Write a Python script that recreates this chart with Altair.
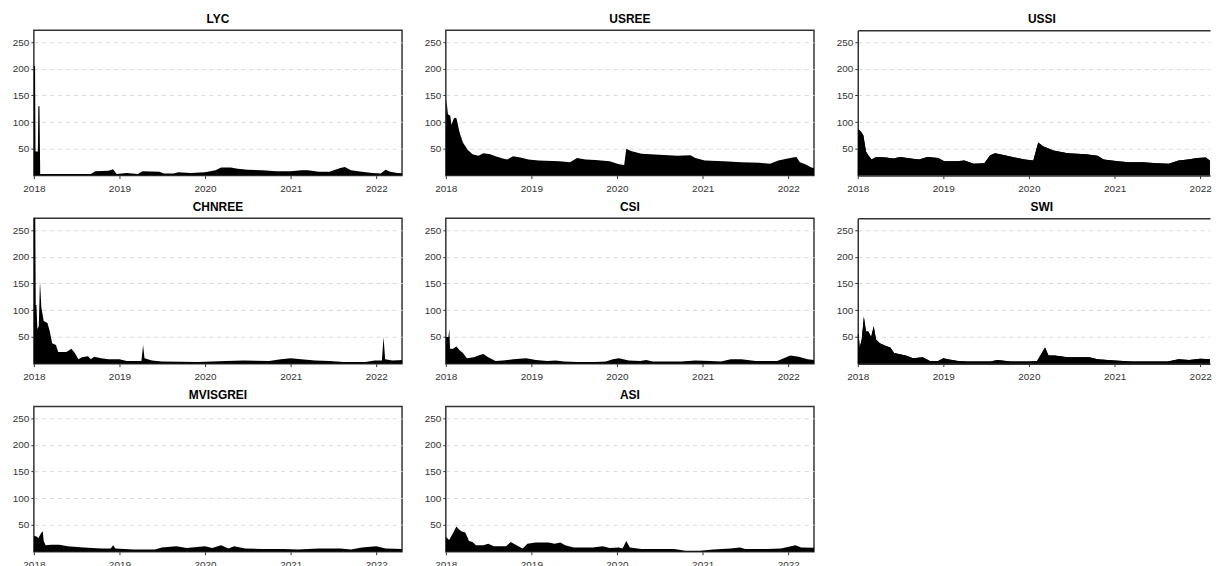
import altair as alt
import pandas as pd

# ---------------- data ----------------
LYC_dates = ["2018-01-01","2018-01-06","2018-01-08","2018-01-18","2018-01-20","2018-01-25","2018-01-28",
             "2018-09-01","2018-09-20","2018-11-15","2018-12-05","2018-12-20","2019-02-01","2019-03-20",
             "2019-04-10","2019-06-20","2019-07-10","2019-08-20","2019-09-10","2019-11-01","2020-01-01",
             "2020-02-15","2020-03-10","2020-04-20","2020-05-20","2020-07-01","2020-09-01","2020-11-01",
             "2021-01-01","2021-02-15","2021-03-15","2021-05-01","2021-06-15","2021-08-01","2021-08-20",
             "2021-09-15","2021-11-01","2021-12-15","2022-01-20","2022-02-10","2022-03-01","2022-04-01",
             "2022-05-05"]
LYC_vals = [205,205,45,45,130,130,3,3,8,9,12,3,5,3,8,7,4,4,6,5,6,10,15,15,13,11,10,8,8,10,10,7,7,14,16,
            10,7,5,4,11,7,5,4]

USREE_dates = ["2018-01-01","2018-01-03","2018-01-10","2018-01-20","2018-01-25","2018-02-05","2018-02-15",
               "2018-03-01","2018-03-15","2018-04-05","2018-04-25","2018-05-20","2018-06-10","2018-07-10",
               "2018-08-01","2018-09-01","2018-09-20","2018-10-15","2018-11-15","2018-12-20","2019-02-01",
               "2019-05-01","2019-06-15","2019-07-15","2019-08-20","2019-10-01","2019-12-01","2020-01-10",
               "2020-02-01","2020-02-10","2020-03-01","2020-04-15","2020-07-01","2020-09-15","2020-11-10",
               "2020-12-01","2021-01-10","2021-04-01","2021-06-15","2021-09-01","2021-10-15","2021-11-20",
               "2021-12-20","2022-01-20","2022-02-05","2022-02-20","2022-03-15","2022-04-10","2022-05-05"]
USREE_vals = [30,145,115,112,95,108,108,80,62,48,40,37,42,40,36,32,30,36,34,30,28,27,25,33,30,29,27,21,
              20,50,46,41,39,37,38,33,28,27,25,24,22,28,31,34,35,25,21,15,13]

USSI_dates = ["2018-01-01","2018-01-03","2018-01-15","2018-01-25","2018-02-05","2018-02-15","2018-03-01",
              "2018-03-20","2018-05-01","2018-06-01","2018-07-01","2018-08-15","2018-09-20","2018-10-25",
              "2018-12-10","2019-01-05","2019-03-01","2019-04-01","2019-05-10","2019-06-25","2019-07-20",
              "2019-08-10","2019-09-20","2019-11-01","2019-12-15","2020-01-20","2020-02-10","2020-03-01",
              "2020-04-15","2020-06-15","2020-09-01","2020-10-20","2020-11-15","2021-01-15","2021-03-01",
              "2021-05-01","2021-07-01","2021-08-20","2021-10-01","2021-11-10","2021-12-20","2022-01-25",
              "2022-02-20","2022-03-20","2022-05-05"]
USSI_vals = [25,87,82,75,45,38,30,35,34,32,35,32,30,35,33,27,27,28,22,23,38,42,38,34,30,28,62,55,47,42,
             40,37,30,27,25,25,23,22,28,30,33,34,25,20,15]

CHNREE_dates = ["2018-01-01","2018-01-07","2018-01-09","2018-01-12","2018-01-16","2018-01-22","2018-01-27",
                "2018-02-02","2018-02-12","2018-02-28","2018-03-10","2018-03-20","2018-04-05","2018-04-15",
                "2018-05-20","2018-06-10","2018-06-25","2018-07-10","2018-07-25","2018-08-20","2018-09-01",
                "2018-09-15","2018-10-15","2018-11-15","2019-01-01","2019-02-01","2019-04-05","2019-04-12",
                "2019-04-18","2019-05-20","2019-07-01","2019-12-01","2020-04-01","2020-06-15","2020-10-01",
                "2020-11-20","2021-01-01","2021-02-15","2021-04-15","2021-06-15","2021-08-15","2021-11-15",
                "2021-12-25","2022-01-25","2022-02-01","2022-02-08","2022-03-10","2022-05-05"]
CHNREE_vals = [272,272,110,110,65,70,155,105,80,76,60,38,35,22,22,28,20,8,12,14,8,13,10,8,8,5,5,35,10,
               6,4,3,5,6,5,8,10,8,6,5,3,3,6,6,50,8,6,7]

CSI_dates = ["2018-01-01","2018-01-12","2018-01-16","2018-01-19","2018-02-01","2018-02-15","2018-03-01",
             "2018-03-15","2018-04-01","2018-05-01","2018-05-20","2018-06-10","2018-07-01","2018-08-01",
             "2018-09-01","2018-10-15","2018-12-10","2019-01-20","2019-03-10","2019-04-15","2019-05-20",
             "2019-07-15","2019-10-01","2019-11-15","2019-12-15","2020-01-10","2020-02-20","2020-04-10",
             "2020-05-05","2020-06-01","2020-10-01","2020-12-01","2021-02-01","2021-03-20","2021-05-01",
             "2021-06-15","2021-08-15","2021-11-15","2022-01-10","2022-02-15","2022-03-25","2022-05-05"]
CSI_vals = [50,50,65,28,28,32,25,20,10,12,15,18,12,5,6,8,10,7,5,6,4,3,3,4,8,10,6,5,7,4,4,6,5,4,8,8,5,5,
            15,13,8,6]

SWI_dates = ["2018-01-01","2018-01-05","2018-01-09","2018-01-18","2018-01-27","2018-02-05","2018-02-15",
             "2018-02-27","2018-03-10","2018-03-20","2018-04-05","2018-05-01","2018-05-20","2018-06-05",
             "2018-06-25","2018-07-25","2018-08-25","2018-10-05","2018-11-05","2018-12-10","2019-01-01",
             "2019-01-20","2019-03-05","2019-04-15","2019-07-20","2019-08-20","2019-10-15","2020-01-01",
             "2020-02-05","2020-03-10","2020-03-25","2020-04-20","2020-06-15","2020-09-15","2020-10-20",
             "2021-01-01","2021-03-15","2021-08-15","2021-10-01","2021-11-15","2022-01-01","2022-02-20",
             "2022-05-05"]
SWI_vals = [55,55,30,45,88,60,60,50,70,45,38,33,30,20,18,15,10,12,5,5,10,8,5,4,4,7,4,4,5,30,15,15,12,12,
            8,6,4,4,8,7,9,8,8]

MVISGREI_dates = ["2018-01-01","2018-01-15","2018-01-20","2018-02-01","2018-02-08","2018-02-12","2018-02-20",
                  "2018-03-15","2018-04-20","2018-05-25","2018-08-01","2018-10-15","2018-11-25","2018-12-05",
                  "2018-12-15","2019-03-01","2019-06-01","2019-07-01","2019-09-01","2019-10-15","2020-01-01",
                  "2020-02-01","2020-03-10","2020-04-10","2020-05-05","2020-06-20","2020-09-01","2020-12-01",
                  "2021-02-01","2021-05-01","2021-08-01","2021-09-15","2021-11-01","2022-01-01","2022-02-10",
                  "2022-05-05"]
MVISGREI_vals = [30,28,25,35,38,20,12,13,13,10,8,6,6,12,6,4,4,8,10,7,10,7,12,6,10,6,5,5,4,6,6,4,8,10,6,5]

ASI_dates = ["2018-01-01","2018-01-15","2018-02-01","2018-02-15","2018-02-25","2018-03-10","2018-03-25",
             "2018-04-10","2018-04-25","2018-05-10","2018-06-10","2018-07-01","2018-07-25","2018-09-15",
             "2018-10-05","2018-10-30","2018-11-25","2018-12-15","2019-01-20","2019-03-15","2019-04-10",
             "2019-05-05","2019-05-25","2019-07-01","2019-09-20","2019-11-01","2019-12-01","2020-01-10",
             "2020-01-25","2020-02-10","2020-02-25","2020-04-15","2020-09-01","2020-10-20","2020-12-20",
             "2021-02-15","2021-05-01","2021-06-10","2021-07-01","2021-10-01","2021-12-01","2022-02-01",
             "2022-02-25","2022-05-05"]
ASI_vals = [28,22,35,47,42,38,36,20,18,12,12,15,10,10,18,12,6,15,17,17,15,17,12,8,8,10,7,8,6,20,8,5,5,
            2,2,4,6,8,5,5,6,12,8,7]

Y_TICKS = [50, 100, 150, 200, 250]

series = [
    ("LYC", LYC_dates, LYC_vals),
    ("USREE", USREE_dates, USREE_vals),
    ("USSI", USSI_dates, USSI_vals),
    ("CHNREE", CHNREE_dates, CHNREE_vals),
    ("CSI", CSI_dates, CSI_vals),
    ("SWI", SWI_dates, SWI_vals),
    ("MVISGREI", MVISGREI_dates, MVISGREI_vals),
    ("ASI", ASI_dates, ASI_vals),
]

START = alt.DateTime(year=2018, month=1, date=1, utc=True)
END_FULL = alt.DateTime(year=2022, month=4, date=21, utc=True)
# the right-hand column runs past the page edge in the reference: show it cut
END_CUT = alt.DateTime(year=2022, month=2, date=12, utc=True)

BORDER = "#333333"


def x_enc(end, **axis_kw):
    return alt.X("date:T", title=None,
                 scale=alt.Scale(type="utc", domain=[START, end], nice=False),
                 axis=alt.Axis(format="%Y", tickCount={"interval": "year", "step": 1},
                               labelFlush=False, grid=False, **axis_kw))


def y_enc(**axis_kw):
    return alt.Y("value:Q", title=None,
                 scale=alt.Scale(domain=[0, 272], nice=False, zero=True),
                 axis=alt.Axis(values=Y_TICKS, grid=True, gridDash=[4, 4], gridColor="#d9d9d9",
                               gridWidth=1, **axis_kw))


def panel(name, dates, vals):
    df = pd.DataFrame({"date": dates, "value": vals})
    return alt.Chart(df, title=name).mark_area(color="black", clip=True).encode(
        x=x_enc(END_FULL), y=y_enc()
    ).properties(width=370, height=146)


def panel_cut(name, dates, vals):
    df = pd.DataFrame({"date": dates, "value": vals})
    y_same = y_enc(domain=True, domainColor=BORDER, domainWidth=1.5)
    base = alt.Chart(df).mark_area(color="black", clip=True).encode(
        x=x_enc(END_CUT, domain=True, domainColor=BORDER, domainWidth=1.5),
        y=y_same,
    )
    top = alt.Chart(df).mark_area(color="black", clip=True).encode(
        x=alt.X("date:T", title=None,
                scale=alt.Scale(type="utc", domain=[START, END_CUT], nice=False),
                axis=alt.Axis(orient="top", labels=False, ticks=False, grid=False,
                              domain=True, domainColor=BORDER, domainWidth=1.5,
                              minExtent=0, maxExtent=0)),
        y=y_same,
    )
    return alt.layer(base, top, title=alt.TitleParams(name, dx=8)).resolve_axis(
        x="independent"
    ).properties(width=354, height=146, view=alt.ViewBackground(stroke="transparent"))


charts = []
for i, s in enumerate(series):
    if i in (2, 5):
        charts.append(panel_cut(*s))
    else:
        charts.append(panel(*s))

row1 = alt.hconcat(*charts[0:3], spacing=17)
row2 = alt.hconcat(*charts[3:6], spacing=17)
row3 = alt.hconcat(*charts[6:8], spacing=17)

chart = alt.vconcat(row1, row2, row3, spacing=6).properties(
    padding={"left": 0, "top": 3, "right": 0, "bottom": 0}
).configure_view(
    stroke=BORDER, strokeWidth=1.5
).configure_axis(
    labelFont="Liberation Sans", labelFontSize=10, labelColor="#333333",
    tickColor="#333333", tickSize=3, domain=False
).configure_axisX(
    labelPadding=5, minExtent=18, maxExtent=18
).configure_axisY(
    labelPadding=2, minExtent=25, maxExtent=25
).configure_title(
    font="Liberation Sans", fontSize=12, fontWeight="bold", color="black", offset=4, anchor="middle"
)

chart.save("out.html", embed_options={"renderer": "svg", "actions": False})
